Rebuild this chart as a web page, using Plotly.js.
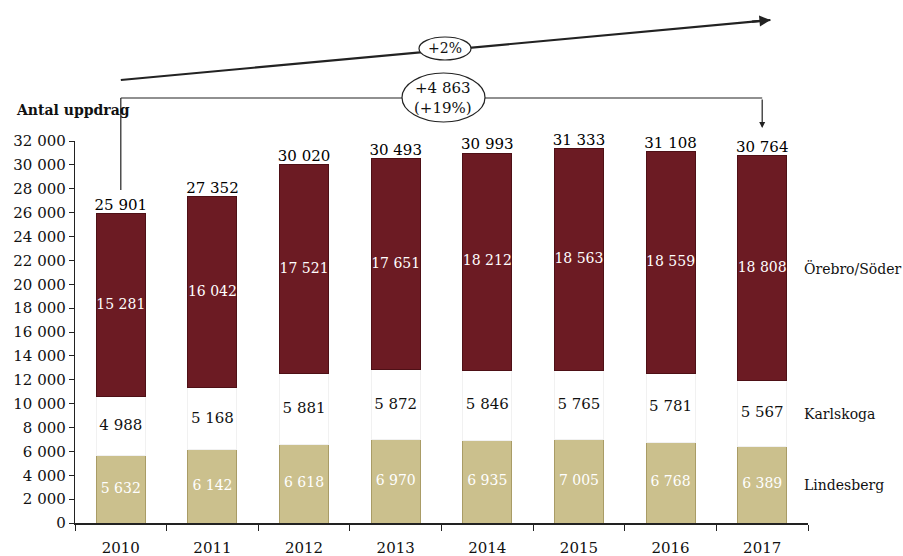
<!DOCTYPE html>
<html>
<head>
<meta charset="utf-8">
<script src="https://cdn.plot.ly/plotly-3.0.1.min.js"></script>
<style>html,body{margin:0;padding:0;background:#fff;}#chart{width:903px;height:556px;}</style>
</head>
<body>
<div id="chart"></div>
<script>
const years = ['2010','2011','2012','2013','2014','2015','2016','2017'];
const lindesberg = [5632, 6142, 6618, 6970, 6935, 7005, 6768, 6389];
const karlskoga = [4988, 5168, 5881, 5872, 5846, 5765, 5781, 5567];
const orebro = [15281, 16042, 17521, 17651, 18212, 18563, 18559, 18808];
const totals = [25901, 27352, 30020, 30493, 30993, 31333, 31108, 30764];
const seriesNames = ['Lindesberg', 'Karlskoga', 'Örebro/Söder'];
const changeAbs = '+4 863';
const changePct = '(+19%)';
const cagrText = '+2%';
const yTitle = 'Antal uppdrag';

const FONT = 'DejaVu Serif, Liberation Serif, serif';
const cLind = '#cbc08d', cKarl = '#ffffff', cOre = '#6c1b23';

const mid1 = lindesberg.map(v => v / 2);
const mid2 = lindesberg.map((v, i) => v + karlskoga[i] / 2);
const mid3 = lindesberg.map((v, i) => v + karlskoga[i] + orebro[i] / 2);

const bw = 0.535;
const traces = [
  {type:'bar', x: years, y: lindesberg, name: seriesNames[0], width: bw,
   marker:{color:cLind, line:{color:'#a99c66', width:1}}, hoverinfo:'skip'},
  {type:'bar', x: years, y: karlskoga, name: seriesNames[1], width: bw,
   marker:{color:cKarl, line:{color:'#f1f1f1', width:1}}, hoverinfo:'skip'},
  {type:'bar', x: years, y: orebro, name: seriesNames[2], width: bw,
   marker:{color:cOre, line:{color:'#4e1016', width:1}}, hoverinfo:'skip'},
  {type:'scatter', mode:'text', x: years, y: mid1, text: lindesberg, cliponaxis:false,
   texttemplate:'%{text:,d}', textfont:{family:FONT, size:14, color:'#ffffff'}, hoverinfo:'skip'},
  {type:'scatter', mode:'text', x: years, y: mid2, text: karlskoga, cliponaxis:false,
   texttemplate:'%{text:,d}', textfont:{family:FONT, size:15, color:'#111111'}, hoverinfo:'skip'},
  {type:'scatter', mode:'text', x: years, y: mid3, text: orebro, cliponaxis:false,
   texttemplate:'%{text:,d}', textfont:{family:FONT, size:14, color:'#ffffff'}, hoverinfo:'skip'},
  {type:'scatter', mode:'text', x: years, y: totals, text: totals, textposition:'top center', cliponaxis:false,
   texttemplate:'%{text:,d}', textfont:{family:FONT, size:15, color:'#000000'}, hoverinfo:'skip'}
];

const last = years.length - 1;
const mt = 141, mb = 33, H = 556;
const ph = H - mt - mb;
const py = px => (H - mb - px) / ph;
const pxx = px => (px - 75) / 733;

const annotations = [
  {xref:'paper', yref:'paper', x:-0.083, y: py(110), xanchor:'left', yanchor:'middle', showarrow:false,
   text:'<b>' + yTitle + '</b>', font:{family:FONT, size:14, color:'#111'}},
  {xref:'paper', yref:'y', x:1.0, y: mid3[last], xanchor:'left', yanchor:'middle', showarrow:false, xshift:-6,
   text: seriesNames[2], font:{family:FONT, size:14, color:'#111'}},
  {xref:'paper', yref:'y', x:1.0, y: mid2[last], xanchor:'left', yanchor:'middle', showarrow:false, xshift:-6,
   text: seriesNames[1], font:{family:FONT, size:14, color:'#111'}},
  {xref:'paper', yref:'y', x:1.0, y: mid1[last], xanchor:'left', yanchor:'middle', showarrow:false, xshift:-6,
   text: seriesNames[0], font:{family:FONT, size:14, color:'#111'}},
  {xref:'x', yref:'paper', x: last, y: py(128), ax:0, ay:-30, text:'', showarrow:true,
   arrowhead:2, arrowsize:1, arrowwidth:1.2, arrowcolor:'#222'},
  {xref:'x', yref:'paper', x: last + 0.09, y: py(20), ax: -20, ay: 1.85, text:'', showarrow:true,
   arrowhead:2, arrowsize:1, arrowwidth:2.2, arrowcolor:'#222'},
  {xref:'paper', yref:'paper', x: pxx(443), y: py(98), xanchor:'center', yanchor:'middle', showarrow:false,
   text: changeAbs + '<br>' + changePct, font:{family:FONT, size:15, color:'#111'}},
  {xref:'paper', yref:'paper', x: pxx(445), y: py(48), xanchor:'center', yanchor:'middle', showarrow:false,
   text: cagrText, font:{family:FONT, size:14, color:'#111'}}
];

const shapes = [
  {type:'line', xref:'x', yref:'paper', x0:0, x1:last + 0.09, y0: py(80), y1: py(20), line:{color:'#222', width:2.2}},
  {type:'line', xref:'x', yref:'paper', x0:0, x1:0, y0: py(190), y1: py(98), line:{color:'#222', width:1.2}},
  {type:'line', xref:'x', yref:'paper', x0:0, x1:last, y0: py(98), y1: py(98), line:{color:'#222', width:1.2}},
  {type:'circle', xref:'paper', yref:'paper', x0:pxx(402), x1:pxx(485), y0:py(122), y1:py(73),
   fillcolor:'#fff', line:{color:'#222', width:1.2}, layer:'above'},
  {type:'circle', xref:'paper', yref:'paper', x0:pxx(419), x1:pxx(471), y0:py(60), y1:py(37),
   fillcolor:'#fff', line:{color:'#222', width:1.2}, layer:'above'}
];

const layout = {
  width: 903, height: 556,
  margin: {l:75, r:95, t:mt, b:mb},
  paper_bgcolor:'#fff', plot_bgcolor:'#fff',
  barmode:'stack',
  showlegend:false,
  separators:', ',
  font:{family:FONT, color:'#111'},
  xaxis:{type:'category', showline:true, linecolor:'#222', linewidth:1.5, ticks:'outside', tickson:'boundaries',
         ticklen:6, tickcolor:'#222', showgrid:false, zeroline:false, automargin:false, ticklabelstandoff:10,
         tickfont:{family:FONT, size:15, color:'#111'}, range:[-0.5, 7.5], fixedrange:true},
  yaxis:{range:[0, 32000], tickvals:[0,2000,4000,6000,8000,10000,12000,14000,16000,18000,20000,22000,24000,26000,28000,30000,32000],
         tickformat:',d', showline:true, linecolor:'#222', linewidth:1.2, ticks:'outside', ticklen:5, tickcolor:'#222',
         showgrid:false, zeroline:false, automargin:false, tickfont:{family:FONT, size:15, color:'#111'}, fixedrange:true},
  annotations: annotations,
  shapes: shapes
};

Plotly.newPlot('chart', traces, layout, {displayModeBar:false, staticPlot:true});
</script>
</body>
</html>
